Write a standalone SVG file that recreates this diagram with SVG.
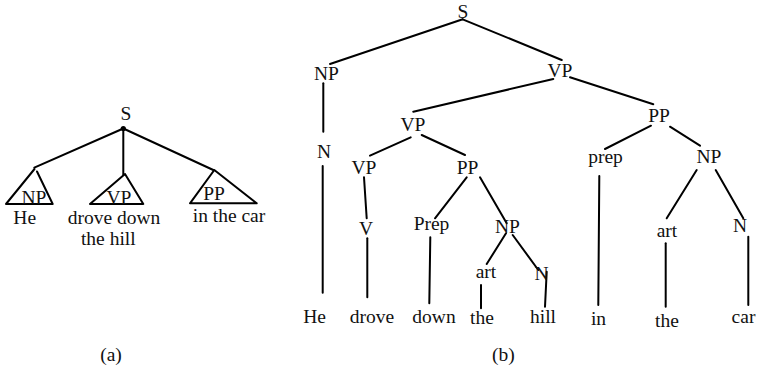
<svg xmlns="http://www.w3.org/2000/svg" width="762" height="368" viewBox="0 0 762 368">
  <defs>
    <style>
      text { font-family: "Liberation Serif", "Times New Roman", serif; font-size: 19.5px; fill: #111; text-anchor: middle; }
      .edge { stroke: #000; stroke-width: 2; fill: none; stroke-linecap: round; stroke-linejoin: round; }
    </style>
  </defs>
  <rect width="762" height="368" fill="#fff"/>

  <!-- (a): flat tree with collapsed constituents -->
  <g id="a-connectors">
    <line class="edge" x1="123.3" y1="128.5" x2="34.3" y2="167.7"/>
    <line class="edge" x1="123.3" y1="128.5" x2="123.3" y2="175"/>
    <line class="edge" x1="123.3" y1="128.5" x2="213.3" y2="170"/>
  </g>
  <g id="a-S">
    <text x="126" y="120">S</text>
    <circle cx="123.3" cy="128.5" r="2.6" fill="#000"/>
  </g>
  <g id="a-NP">
    <path class="edge" d="M6,204 L34.5,169 M37,171.5 L52.7,204 M6,204 H52.7"/>
    <text x="34" y="204">NP</text>
    <text x="24.7" y="223.5">He</text>
  </g>
  <g id="a-VP">
    <path class="edge" d="M90,204 L125,174 L143.3,204 Z"/>
    <text x="119" y="204">VP</text>
    <text x="114" y="224">drove down</text>
    <text x="108.3" y="245">the hill</text>
  </g>
  <g id="a-PP">
    <path class="edge" d="M190,203.3 L214.3,170 L256.7,203.3 Z"/>
    <text x="214" y="200">PP</text>
    <text x="229" y="221.7">in the car</text>
  </g>
  <g id="a-caption"><text x="111" y="361">(a)</text></g>

  <!-- (b): full parse tree -->
  <g id="b-connectors">
    <line class="edge" x1="462.7" y1="19.3" x2="330" y2="64"/>
    <line class="edge" x1="462.7" y1="19.3" x2="561.7" y2="60"/>
    <line class="edge" x1="323.3" y1="83.3" x2="323.3" y2="131.7"/>
    <line class="edge" x1="322.7" y1="166" x2="322.7" y2="292.7"/>
    <line class="edge" x1="553.3" y1="79" x2="413.3" y2="111.7"/>
    <line class="edge" x1="570" y1="77.3" x2="653.3" y2="104.3"/>
    <line class="edge" x1="410.7" y1="137.3" x2="370" y2="155.7"/>
    <line class="edge" x1="421.7" y1="135" x2="465" y2="155"/>
    <line class="edge" x1="364" y1="177.3" x2="366.7" y2="218.3"/>
    <line class="edge" x1="367.3" y1="238.3" x2="367.3" y2="297.3"/>
    <line class="edge" x1="466.7" y1="177.3" x2="435" y2="218.3"/>
    <line class="edge" x1="480" y1="177.3" x2="506.7" y2="223.3"/>
    <line class="edge" x1="430.3" y1="237.3" x2="429.3" y2="303.3"/>
    <line class="edge" x1="506" y1="233.3" x2="486.7" y2="264"/>
    <line class="edge" x1="512.7" y1="235" x2="538.3" y2="270"/>
    <line class="edge" x1="481" y1="285" x2="481" y2="308.3"/>
    <line class="edge" x1="546.7" y1="271.7" x2="545" y2="306.7"/>
    <line class="edge" x1="651" y1="125.7" x2="605" y2="149"/>
    <line class="edge" x1="670" y1="126.7" x2="700" y2="145.7"/>
    <line class="edge" x1="599.3" y1="176" x2="598.3" y2="305"/>
    <line class="edge" x1="696.7" y1="170" x2="666.7" y2="218.3"/>
    <line class="edge" x1="715.7" y1="170" x2="743.3" y2="218.3"/>
    <line class="edge" x1="665.7" y1="243.3" x2="665.7" y2="306.7"/>
    <line class="edge" x1="748.3" y1="236.7" x2="748.3" y2="305"/>
  </g>
  <g id="b-S"><text x="463" y="18">S</text></g>
  <g id="b-NP"><text x="326.5" y="80">NP</text></g>
  <g id="b-N"><text x="324" y="158">N</text></g>
  <g id="b-He"><text x="314.5" y="323">He</text></g>
  <g id="b-VP"><text x="560" y="77">VP</text></g>
  <g id="b-VP-inner"><text x="413" y="131">VP</text></g>
  <g id="b-PP"><text x="659" y="122">PP</text></g>
  <g id="b-VP-verb"><text x="364" y="174">VP</text></g>
  <g id="b-PP-inner"><text x="467.5" y="174">PP</text></g>
  <g id="b-V"><text x="366" y="235">V</text></g>
  <g id="b-Prep"><text x="431.5" y="230">Prep</text></g>
  <g id="b-NP-hill"><text x="507.5" y="233">NP</text></g>
  <g id="b-art-hill"><text x="486" y="278">art</text></g>
  <g id="b-N-hill"><text x="541.5" y="280">N</text></g>
  <g id="b-drove"><text x="372" y="323">drove</text></g>
  <g id="b-down"><text x="434" y="323">down</text></g>
  <g id="b-the-hill"><text x="482" y="324">the</text></g>
  <g id="b-hill"><text x="543" y="323">hill</text></g>
  <g id="b-prep"><text x="605.5" y="163">prep</text></g>
  <g id="b-NP-car"><text x="709" y="163">NP</text></g>
  <g id="b-in"><text x="598.5" y="325">in</text></g>
  <g id="b-art-car"><text x="667" y="237">art</text></g>
  <g id="b-N-car"><text x="740" y="232">N</text></g>
  <g id="b-the-car"><text x="667" y="327">the</text></g>
  <g id="b-car"><text x="743.5" y="323">car</text></g>
  <g id="b-caption"><text x="503.3" y="361">(b)</text></g>
</svg>
